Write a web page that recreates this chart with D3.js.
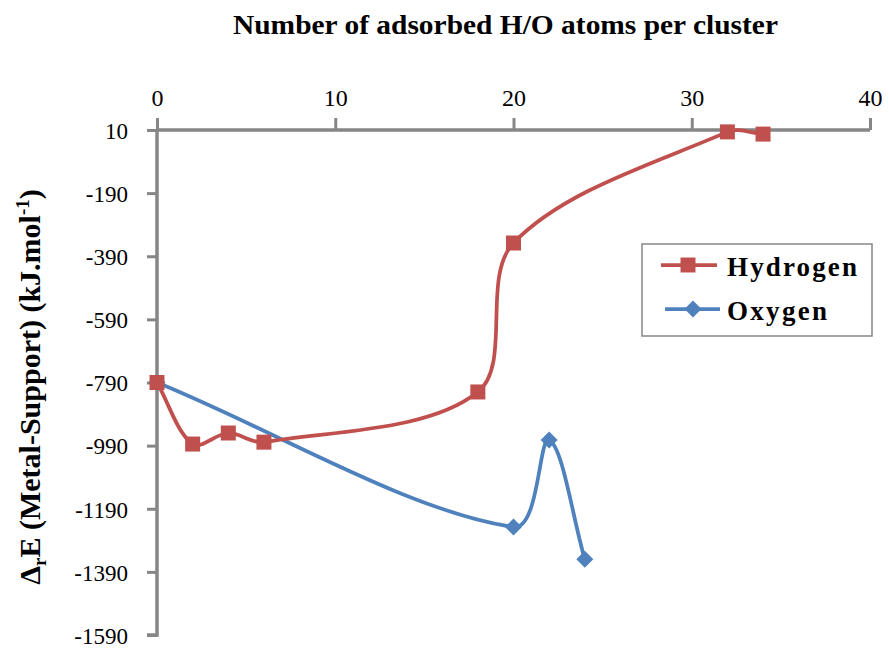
<!DOCTYPE html>
<html><head><meta charset="utf-8">
<script src="https://cdn.jsdelivr.net/npm/d3@7"></script>
<style>body{margin:0;background:#fff}svg{display:block}</style>
</head><body>
<svg id="c" width="889" height="649"></svg>
<script>
const hydrogenX = [0, 2, 4, 6, 18, 20, 32, 34];
const hydrogenY = [-790, -985, -950, -979, -820, -348, 4, -3];
const oxygenX = [0, 20, 22, 24];
const oxygenY = [-790, -1248, -972, -1350];
const xTicks = [0, 10, 20, 30, 40];
const yTicks = [10, -190, -390, -590, -790, -990, -1190, -1390, -1590];
const seriesNames = ["Hydrogen", "Oxygen"];
const colors = ["#C0504D", "#4F81BD"];

const FONT = "Liberation Serif";
const svg = d3.select("#c");
const x = d3.scaleLinear().domain([0, 40]).range([157, 870]);
const y = d3.scaleLinear().domain([10, -1590]).range([130, 635]);
const axisColor = "#868686";
const fmt = d => String(d);

// X axis (top)
const gx = svg.append("g").attr("transform", "translate(0," + y(10) + ")")
  .call(d3.axisTop(x).tickValues(xTicks).tickSize(12).tickPadding(12).tickFormat(fmt));
gx.attr("font-family", FONT);
gx.select(".domain").attr("stroke", axisColor).attr("stroke-width", 3.5).attr("d", "M" + x(0) + ",0H" + x(40));
gx.selectAll(".tick line").attr("stroke", axisColor).attr("stroke-width", 3);
gx.selectAll(".tick text").attr("font-size", 24).attr("fill", "#000").attr("font-family", FONT);

// Y axis
const gy = svg.append("g").attr("transform", "translate(" + x(0) + ",0)")
  .call(d3.axisLeft(y).tickValues(yTicks).tickSize(10).tickPadding(19).tickFormat(fmt));
gy.attr("font-family", FONT);
gy.select(".domain").attr("stroke", axisColor).attr("stroke-width", 3.5).attr("d", "M0," + y(10) + "V" + y(-1590) + "h-10");
gy.selectAll(".tick line").attr("stroke", axisColor).attr("stroke-width", 3);
gy.selectAll(".tick text").attr("font-size", 23).attr("fill", "#000").attr("font-family", FONT).attr("dy", "0.36em");

// Title
svg.append("text").attr("x", 233).attr("y", 34).attr("font-family", FONT)
  .attr("font-weight", "bold").attr("font-size", 28)
  .attr("textLength", 545).attr("lengthAdjust", "spacingAndGlyphs")
  .text("Number of adsorbed H/O atoms per cluster");

// Y title
const yt = svg.append("text").attr("transform", "translate(40,387) rotate(-90)")
  .attr("text-anchor", "middle").attr("font-family", FONT).attr("font-weight", "bold").attr("font-size", 30);
yt.append("tspan").text("Δ");
yt.append("tspan").attr("font-size", 19).attr("dy", 6).text("r");
yt.append("tspan").attr("dy", -6).text("E (Metal-Support) (kJ.mol");
yt.append("tspan").attr("font-size", 19).attr("dy", -11).text("-1");
yt.append("tspan").attr("dy", 11).text(")");

// Excel-like smoothed Bezier path (pixel space)
function smoothPath(pts) {
  const p = pts.map(d => [x(d[0]), y(d[1])]);
  const n = p.length;
  const dist = (a, b) => Math.hypot(b[0] - a[0], b[1] - a[1]);
  let s = "M" + p[0][0] + "," + p[0][1];
  for (let i = 0; i < n - 1; i++) {
    const p0 = p[Math.max(i - 1, 0)], p1 = p[i], p2 = p[i + 1], p3 = p[Math.min(i + 2, n - 1)];
    const d01 = dist(p0, p1), d12 = dist(p1, p2), d23 = dist(p2, p3);
    const f1 = d12 / (d01 + d12) / 3, f2 = d12 / (d12 + d23) / 3;
    const c1 = [p1[0] + (p2[0] - p0[0]) * f1, p1[1] + (p2[1] - p0[1]) * f1];
    const c2 = [p2[0] - (p3[0] - p1[0]) * f2, p2[1] - (p3[1] - p1[1]) * f2];
    s += "C" + c1[0] + "," + c1[1] + " " + c2[0] + "," + c2[1] + " " + p2[0] + "," + p2[1];
  }
  return s;
}
const hData = hydrogenX.map((v, i) => [v, hydrogenY[i]]);
const oData = oxygenX.map((v, i) => [v, oxygenY[i]]);

svg.append("path").datum(oData).attr("d", smoothPath).attr("fill", "none")
  .attr("stroke", colors[1]).attr("stroke-width", 3.75);
svg.append("path").datum(hData).attr("d", smoothPath).attr("fill", "none")
  .attr("stroke", colors[0]).attr("stroke-width", 3.75);

const sq = "M-7.5,-7.5h15v15h-15Z";
const di = "M0,-8.5L8.5,0L0,8.5L-8.5,0Z";
svg.selectAll(".om").data(oData).join("path").attr("class", "om")
  .attr("transform", d => "translate(" + x(d[0]) + "," + y(d[1]) + ")").attr("d", di)
  .attr("fill", colors[1]);
svg.selectAll(".hm").data(hData).join("path").attr("class", "hm")
  .attr("transform", d => "translate(" + x(d[0]) + "," + y(d[1]) + ")").attr("d", sq)
  .attr("fill", colors[0]);

// Legend
const lg = svg.append("g");
lg.append("rect").attr("x", 642).attr("y", 244).attr("width", 230).attr("height", 92)
  .attr("fill", "#fff").attr("stroke", axisColor).attr("stroke-width", 1.5);
const legLayout = [{ly: 265, x1: 661, x2: 717, mx: 688, tw: 130}, {ly: 309, x1: 665, x2: 720, mx: 693, tw: 100}];
seriesNames.forEach((n, i) => {
  const L = legLayout[i];
  lg.append("line").attr("x1", L.x1).attr("x2", L.x2).attr("y1", L.ly).attr("y2", L.ly)
    .attr("stroke", colors[i]).attr("stroke-width", 3.75);
  lg.append("path").attr("transform", "translate(" + L.mx + "," + L.ly + ")").attr("d", i === 0 ? sq : di)
    .attr("fill", colors[i]);
  lg.append("text").attr("x", 727).attr("y", L.ly + 11).attr("font-family", FONT)
    .attr("font-weight", "bold").attr("font-size", 27)
    .attr("textLength", L.tw).attr("lengthAdjust", "spacing").text(n);
});
</script>
</body></html>
